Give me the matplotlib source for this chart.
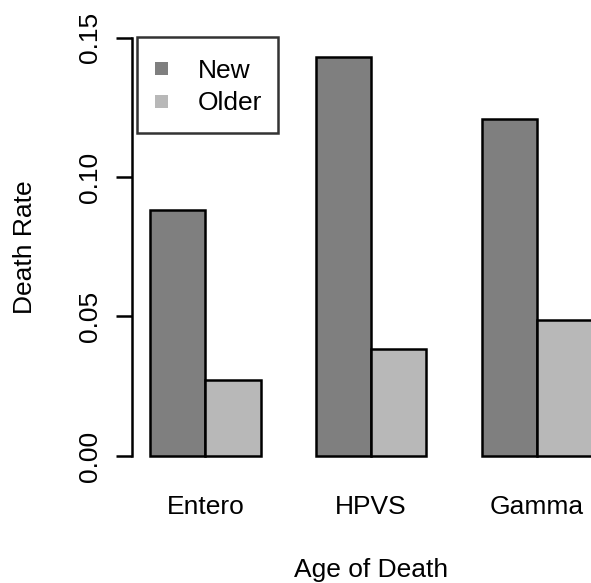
import numpy as np
import matplotlib
matplotlib.use("Agg")
import matplotlib.pyplot as plt
from matplotlib.patches import Patch, Rectangle
from matplotlib.legend_handler import HandlerPatch

plt.rcParams['font.family'] = ['Liberation Sans', 'DejaVu Sans']

groups = ['Entero', 'HPVS', 'Gamma']
new = [0.0883, 0.1430, 0.1209]
older = [0.0272, 0.0382, 0.0489]
yticks = [0.00, 0.05, 0.10, 0.15]
ytick_labels = ['0.00', '0.05', '0.10', '0.15']

dark = '#7f7f7f'
light = '#b8b8b8'
fs = 19
lw = 1.8

W, H = 591, 583
fig = plt.figure(figsize=(W / 100, H / 100), dpi=100)

# plot region like R's barplot, right part falls off the picture
left, right, top, bottom = 132.3, 610.0, 20.8, 472.7
ax = fig.add_axes([left / W, 1 - bottom / H, (right - left) / W, (bottom - top) / H])

# R style positions: bars of width 1, one empty unit between groups
r = np.arange(len(groups)) * 3 + 1
ax.bar(r, new, width=1, align='edge', color=dark, edgecolor='black', linewidth=lw)
ax.bar(r + 1, older, width=1, align='edge', color=light, edgecolor='black', linewidth=lw)

ax.set_xlim(0.68, 9.32)
ax.set_ylim(-0.006, 0.156)

for s in ['top', 'right', 'bottom']:
    ax.spines[s].set_visible(False)
ax.spines['left'].set_bounds(0, 0.15)
ax.spines['left'].set_linewidth(lw)

ax.set_yticks(yticks)
ax.set_yticklabels(ytick_labels, rotation=90, va='center', fontsize=fs)
ax.tick_params(axis='y', direction='out', length=11.5, width=lw, pad=10)

ax.set_xticks(r + 1)
ax.set_xticklabels(groups, fontsize=fs)
ax.tick_params(axis='x', length=0, pad=16)

fig.text(32 / W, 1 - 246.7 / H, 'Death Rate', rotation=90, rotation_mode='anchor',
         ha='center', va='baseline', fontsize=fs)
fig.text(371 / W, 1 - 577 / H, 'Age of Death', ha='center', va='baseline', fontsize=fs)


# small square key, sitting near the left of a wider handle box
def small_square(legend, orig_handle, xdescent, ydescent, width, height, fontsize):
    s = 9.4
    return Rectangle((-xdescent + 1.8, -ydescent + (height - s) / 2), s, s)


handles = [Patch(facecolor=dark, edgecolor='none'), Patch(facecolor=light, edgecolor='none')]
leg = ax.legend(handles, ['New', 'Older'], loc='upper left',
                bbox_to_anchor=((137 - left) / (right - left), (bottom - 37) / (bottom - top)),
                borderaxespad=0, fancybox=False, fontsize=fs,
                handlelength=1.2, handleheight=1.5, handletextpad=0.5,
                borderpad=0.6, labelspacing=0,
                handler_map={Patch: HandlerPatch(patch_func=small_square)})
leg.get_frame().set_edgecolor('black')
leg.get_frame().set_linewidth(lw)

fig.savefig('out.png', dpi=100)
